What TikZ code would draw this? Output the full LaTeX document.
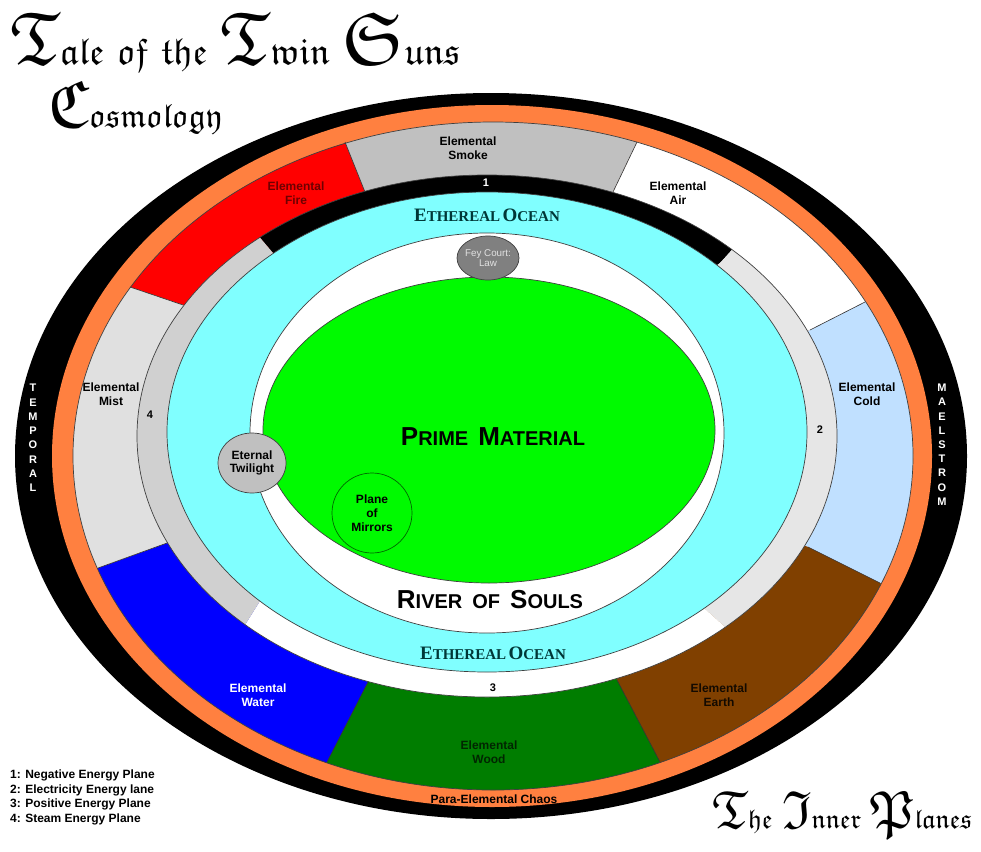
\documentclass[tikz,border=0pt]{standalone}
\usepackage{fontspec}
\setmainfont{Liberation Serif}
\setsansfont{Liberation Sans}
\usepackage{graphicx}
\usetikzlibrary{calc}

\DeclareFontFamily{U}{ttsfrak}{}
\DeclareFontShape{U}{ttsfrak}{m}{n}{<->eufm10}{}
\newcommand\frakfont{\usefont{U}{ttsfrak}{m}{n}\fontsize{10}{10}\selectfont}
\newcommand\frakcap[1]{{\fontsize{20}{20}\selectfont #1}}
\newcommand\fsp{\hspace{0.35em}}

\definecolor{chaosorange}{RGB}{255,128,64}
\definecolor{smokegray}{RGB}{192,192,192}
\definecolor{coldblue}{RGB}{192,224,255}
\definecolor{earthbrown}{RGB}{128,64,0}
\definecolor{woodgreen}{RGB}{0,125,0}
\definecolor{mistgray}{RGB}{224,224,224}
\definecolor{steamgray}{RGB}{208,208,208}
\definecolor{elecgray}{RGB}{230,230,230}
\definecolor{etherealcyan}{RGB}{128,255,255}
\definecolor{primegreen}{RGB}{0,250,0}
\definecolor{oceanink}{RGB}{0,55,55}
\definecolor{firetext}{RGB}{110,0,0}
\definecolor{feytext}{RGB}{225,225,225}

\newcommand\bigsc[2]{{\fontsize{26}{30}\selectfont #1}{\fontsize{20}{24}\selectfont #2}}
\newcommand\oceansc[2]{{\fontsize{19}{22}\selectfont #1}{\fontsize{15}{18}\selectfont #2}}
\newcommand\scgap{\hspace{10pt}}
% wedge between two boundary lines, each given by name-in / name-out
\newcommand\wedgefill[4][8]{\fill[#2] (#3-in) -- ($(#3-in)!#1!(#3-out)$) -- ($(#4-in)!#1!(#4-out)$) -- (#4-in) -- (ctr) -- cycle;}

\tikzset{
  rim/.style={draw=black!75, line width=0.7pt},
  seam/.style={draw=black!80, line width=0.6pt},
  elemlabel/.style={font=\sffamily\bfseries\fontsize{12}{14.5}\selectfont, align=center, inner sep=0pt},
  energynum/.style={font=\sffamily\bfseries\fontsize{11}{13}\selectfont, inner sep=0pt},
  rimletter/.style={font=\sffamily\bfseries\fontsize{11}{13}\selectfont, text=white, inner sep=0pt},
  planelabel/.style={font=\sffamily\bfseries, inner sep=1pt},
  oceanlabel/.style={font=\rmfamily\bfseries, text=oceanink, inner sep=0pt},
}

\begin{document}
\begin{tikzpicture}[x=1pt,y=-1pt]
        \useasboundingbox (0,0) rectangle (981,851);
        \fill[white] (0,0) rectangle (981,851);

        \fill[black] (491,456) ellipse [x radius=476, y radius=363];
        \fill[chaosorange] (492,456) ellipse [x radius=440, y radius=351];

        \coordinate (ctr) at (487,434);
        % elemental ring
        \coordinate (mf-in) at (183,305); \coordinate (mf-out) at (130,287);
        \coordinate (fs-in) at (365,192); \coordinate (fs-out) at (345,142);
        \coordinate (sa-in) at (613,192); \coordinate (sa-out) at (637,142);
        \coordinate (ac-in) at (810,330); \coordinate (ac-out) at (865,302);
        \coordinate (ce-in) at (808,547); \coordinate (ce-out) at (880,583);
        \coordinate (ew-in) at (617,680); \coordinate (ew-out) at (660,762);
        \coordinate (ww-in) at (368,682); \coordinate (ww-out) at (327,762);
        \coordinate (wm-in) at (167,543); \coordinate (wm-out) at (98,568);
        \begin{scope}
          \clip (493,456) ellipse [x radius=420, y radius=334];
          \wedgefill{red}{mf}{fs}
          \wedgefill{smokegray}{fs}{sa}
          \wedgefill{white}{sa}{ac}
          \wedgefill{coldblue}{ac}{ce}
          \wedgefill{earthbrown}{ce}{ew}
          \wedgefill{woodgreen}{ew}{ww}
          \wedgefill{blue}{ww}{wm}
          \wedgefill{mistgray}{wm}{mf}
        \end{scope}
        \draw[rim] (493,456) ellipse [x radius=420, y radius=334];
        \foreach \b in {mf,fs,sa,ac,ce,ew,ww,wm}
          \draw[seam] (\b-in) -- (\b-out);

        % energy planes
        \coordinate (eA-in) at (273,253); \coordinate (eA-out) at (262,240);
        \coordinate (eB-in) at (720,263); \coordinate (eB-out) at (730,252);
        \coordinate (eC-in) at (704,608); \coordinate (eC-out) at (724,626);
        \coordinate (eD-in) at (260,601); \coordinate (eD-out) at (245,625);
        \begin{scope}
          \clip (487,436) ellipse [x radius=350, y radius=261];
          \wedgefill[12]{black}{eA}{eB}
          \wedgefill[12]{elecgray}{eB}{eC}
          \wedgefill[12]{white}{eC}{eD}
          \wedgefill[12]{steamgray}{eD}{eA}
        \end{scope}
        \draw[rim] (487,436) ellipse [x radius=350, y radius=261];

        \fill[etherealcyan, rim] (487,432) ellipse [x radius=320, y radius=240];
        \fill[white, rim] (487,433) ellipse [x radius=237, y radius=200];
        \fill[primegreen, rim] (489,430) ellipse [x radius=226, y radius=153];

        \fill[gray, rim] (488,258) ellipse [x radius=31, y radius=22];
        \node[font=\sffamily\fontsize{9.8}{10.5}\selectfont, text=feytext, align=center, inner sep=0pt] (fey) at (488,258) {Fey Court:\\Law};
        \fill[smokegray, rim] (252,463) ellipse [x radius=34, y radius=30];
        \node[elemlabel, font=\sffamily\bfseries\fontsize{12}{13.5}\selectfont] (twilight) at (252,463) {Eternal\\Twilight};
        \draw[draw=black!60!green, line width=0.7pt] (372,513) circle [radius=40];
        \node[elemlabel, font=\sffamily\bfseries\fontsize{12}{14}\selectfont] (mirrors) at (372,513) {Plane\\of\\Mirrors};

        \node[planelabel] (prime) at (493,437) {\bigsc{P}{RIME}\scgap\bigsc{M}{ATERIAL}};
        \node[planelabel, fill=white] (river) at (490,600) {\bigsc{R}{IVER}\scgap\bigsc{}{OF}\scgap\bigsc{S}{OULS}};
        \node[oceanlabel] (oceantop) at (487,215) {\oceansc{E}{THEREAL} \oceansc{O}{CEAN}};
        \node[oceanlabel] (oceanbot) at (493,653) {\oceansc{E}{THEREAL} \oceansc{O}{CEAN}};

        \node[elemlabel] (smoke) at (468,148) {Elemental\\Smoke};
        \node[elemlabel, text=firetext] (fire) at (296,193) {Elemental\\Fire};
        \node[elemlabel] (air) at (678,193) {Elemental\\Air};
        \node[elemlabel] (cold) at (867,394) {Elemental\\Cold};
        \node[elemlabel] (mist) at (111,394) {Elemental\\Mist};
        \node[elemlabel, text=white] (water) at (258,695) {Elemental\\Water};
        \node[elemlabel, text=black!85!green] (wood) at (489,752) {Elemental\\Wood};
        \node[elemlabel, text=black!85!earthbrown] (earth) at (719,695) {Elemental\\Earth};
        \node[elemlabel] (chaos) at (494,799) {Para-Elemental Chaos};

        \node[energynum, text=white] (neg) at (486,183) {1};
        \node[energynum] (elec) at (820,430) {2};
        \node[energynum] (pos) at (493,688) {3};
        \node[energynum] (steam) at (150,415) {4};

        \foreach \ch [count=\i from 0] in {T,E,M,P,O,R,A,L}
          \node[rimletter] (temporal-\i) at (33,{388+14.3*\i}) {\ch};
        \foreach \ch [count=\i from 0] in {M,A,E,L,S,T,R,O,M}
          \node[rimletter] (maelstrom-\i) at (942,{388+14.2*\i}) {\ch};

        \node[elemlabel, align=left, anchor=north west] (legend) at (10,770)
          {1: Negative Energy Plane\\2: Electricity Energy lane\\3: Positive Energy Plane\\4: Steam Energy Plane};

        \node[anchor=west, inner sep=0pt] (suntitle) at (10,42)
          {\resizebox{450pt}{!}{\frakfont\frakcap{T}ale\fsp of\fsp the\fsp\frakcap{T}win\fsp\frakcap{S}uns}};
        \node[anchor=west, inner sep=0pt] (cosmo) at (48,107)
          {\resizebox{174pt}{!}{\frakfont\frakcap{C}osmology}};
        \node[anchor=west, inner sep=0pt] (inner) at (712,815)
          {\resizebox{260pt}{!}{\frakfont\frakcap{T}he\fsp\frakcap{I}nner\fsp\frakcap{P}lanes}};
\end{tikzpicture}
\end{document}
